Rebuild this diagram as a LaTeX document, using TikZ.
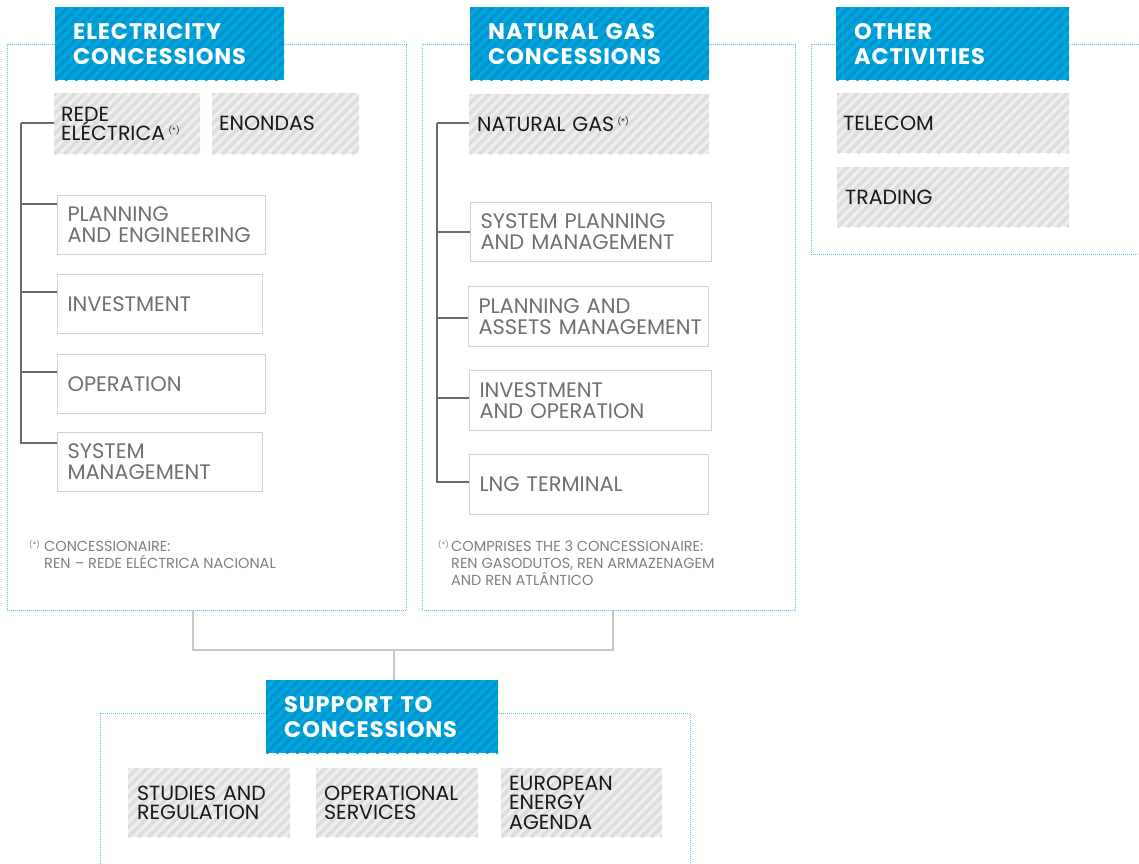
\documentclass[tikz,border=0pt]{standalone}
\usepackage{fontspec}
\setmainfont{Poppins}
\hyphenpenalty=10000
\exhyphenpenalty=10000
\definecolor{dotblue}{HTML}{5BC3EA}
\definecolor{hbblue}{HTML}{00A6DF}
\definecolor{hbstripe}{HTML}{0096CD}
\definecolor{hgbg}{HTML}{EEEEEE}
\definecolor{hgstripe}{HTML}{DDDDDD}
\definecolor{wborder}{HTML}{D2D2D2}
\definecolor{wtext}{HTML}{707070}
\definecolor{treeline}{HTML}{6A6A6A}
\definecolor{connline}{HTML}{C8C8C8}
\definecolor{notetext}{HTML}{808080}
\begin{document}
\begin{tikzpicture}[x=1pt,y=-1pt,
  container/.style={draw=dotblue, dash pattern=on 0.9pt off 1.1pt, line width=0.9pt},
  basebox/.style={anchor=north west, align=left, inner ysep=0pt},
  headbox/.style={basebox, fill=hbblue, text=white, inner xsep=18pt,
    font=\bfseries\fontsize{22.5}{25}\selectfont\addfontfeatures{LetterSpace=4},
    path picture={\foreach \k in {-100,-90,...,260}{\draw[line width=3.5pt,hbstripe] ([xshift=\k pt]path picture bounding box.south west) -- ++(120pt,120pt);}}},
  graybox/.style={basebox, fill=hgbg, text=black!90, inner xsep=8pt,
    font=\fontsize{20.5}{19.5}\selectfont,
    path picture={\foreach \k in {-100,-90,...,260}{\draw[line width=3.5pt,hgstripe] ([xshift=\k pt]path picture bounding box.south west) -- ++(120pt,120pt);}}},
  whitebox/.style={basebox, draw=wborder, line width=1pt, text=wtext, inner xsep=10pt,
    font=\fontsize{21}{21}\selectfont},
  tree/.style={draw=treeline, line width=1.3pt},
  conn/.style={draw=connline, line width=1.6pt},
  note/.style={anchor=north west, align=left, text=notetext, inner sep=0pt,
    font=\fontsize{14.5}{17}\selectfont},
  notemark/.style={anchor=base west, text=notetext, inner sep=0pt,
    font=\fontsize{7.5}{7.5}\selectfont}]
\useasboundingbox (0,0) rectangle (1139,863);
\fill[white] (0,0) rectangle (1139,863);

% dotted containers
\node[anchor=north west, minimum width=399pt, minimum height=566pt, inner sep=0pt] (ebox) at (7,44) {};
\node[anchor=north west, minimum width=373pt, minimum height=566pt, inner sep=0pt] (gbox) at (422,44) {};
\draw[container] (ebox.north west) rectangle (ebox.south east);
\draw[container] (gbox.north west) rectangle (gbox.south east);
\draw[container] (1141,44) -- (811,44) -- (811,254) -- (1141,254);
\draw[container] (100,866) -- (100,713) -- (690,713) -- (690,866);

% headers
\node[headbox, minimum width=229pt, minimum height=73pt, text width=193pt] (ehead) at (55,7) {ELECTRICITY\\CONCESSIONS};
\node[headbox, minimum width=239pt, minimum height=73pt, text width=203pt] (ghead) at (470,7) {NATURAL GAS\\CONCESSIONS};
\node[headbox, minimum width=233pt, minimum height=73pt, text width=197pt] (ohead) at (836,7) {OTHER\\ACTIVITIES};
\node[headbox, minimum width=232pt, minimum height=73pt, text width=196pt] (shead) at (266,680) {SUPPORT TO\\CONCESSIONS};

% gray boxes
\node[graybox, minimum width=146pt, minimum height=61pt, text width=132pt, inner xsep=7pt] (rede) at (54,93) {REDE\\ELÉCTRICA\,\raisebox{7pt}{\fontsize{8}{8}\selectfont(*)}};
\node[graybox, minimum width=147pt, minimum height=61pt, text width=133pt, inner xsep=7pt] (enon) at (212,93) {ENONDAS};
\node[graybox, minimum width=240pt, minimum height=60pt, text width=224pt, yshift=-1pt] (ngas) at (469,93) {NATURAL GAS\,\raisebox{7pt}{\fontsize{8}{8}\selectfont(*)}};
\node[graybox, minimum width=232pt, minimum height=60pt, text width=220pt, inner xsep=6pt] (tele) at (837,93) {TELECOM};
\node[graybox, minimum width=232pt, minimum height=60pt, text width=216pt] (trad) at (837,167) {TRADING};
\node[graybox, minimum width=162pt, minimum height=69pt, text width=144pt, inner xsep=9pt] (stud) at (128,768) {STUDIES AND\\REGULATION};
\node[graybox, minimum width=162pt, minimum height=69pt, text width=146pt] (opsv) at (316,768) {OPERATIONAL\\SERVICES};
\node[graybox, minimum width=161pt, minimum height=69pt, text width=145pt] (euro) at (501,768) {EUROPEAN\\ENERGY\\AGENDA};

% white boxes - electricity
\node[whitebox, minimum width=208pt, minimum height=59pt, text width=188pt] (pe) at (57,195) {PLANNING\\AND ENGINEERING};
\node[whitebox, minimum width=205pt, minimum height=59pt, text width=185pt] (inv) at (57,274) {INVESTMENT};
\node[whitebox, minimum width=208pt, minimum height=59pt, text width=188pt] (op) at (57,354) {OPERATION};
\node[whitebox, minimum width=205pt, minimum height=59pt, text width=185pt] (sm) at (57,432) {SYSTEM\\MANAGEMENT};

% white boxes - gas
\node[whitebox, minimum width=241pt, minimum height=59pt, text width=221pt] (spm) at (470,202) {SYSTEM PLANNING\\AND MANAGEMENT};
\node[whitebox, minimum width=240pt, minimum height=60pt, text width=220pt] (pam) at (468,286) {PLANNING AND\\\mbox{ASSETS MANAGEMENT}};
\node[whitebox, minimum width=242pt, minimum height=60pt, text width=222pt] (iao) at (469,370) {INVESTMENT\\AND OPERATION};
\node[whitebox, minimum width=239pt, minimum height=60pt, text width=219pt] (lng) at (469,454) {LNG TERMINAL};

% footnotes
\node[notemark] (n1m) at (29,547) {(*)};
\node[note] (n1) at (44,541.5) {CONCESSIONAIRE:\\REN – REDE ELÉCTRICA NACIONAL};
\node[notemark] (n2m) at (438,547) {(*)};
\node[note] (n2) at (451,540.5) {COMPRISES THE 3 CONCESSIONAIRE:\\REN GASODUTOS, REN ARMAZENAGEM\\AND REN ATLÂNTICO};

% electricity tree
\coordinate (et) at (21,123);
\draw[tree] (rede.west |- et) -- (et);
\draw[tree] (et) |- ([yshift=-9pt]pe.north west);
\draw[tree] (et) |- ([yshift=-18pt]inv.north west);
\draw[tree] (et) |- ([yshift=-18pt]op.north west);
\draw[tree] (et) |- ([yshift=-11pt]sm.north west);

% gas tree
\coordinate (gt) at (437,123);
\draw[tree] (ngas.west |- gt) -- (gt);
\draw[tree] (gt) |- (spm.west);
\draw[tree] (gt) |- ([yshift=-32pt]pam.north west);
\draw[tree] (gt) |- ([yshift=-28pt]iao.north west);
\draw[tree] (gt) |- ([yshift=-28pt]lng.north west);

% bottom connector
\coordinate (j) at (394,650);
\draw[conn] ([xshift=186pt]ebox.south west) |- (j) -| ([xshift=191pt]gbox.south west);
\draw[conn] (j) -- (j |- shead.north);
\end{tikzpicture}
\end{document}
